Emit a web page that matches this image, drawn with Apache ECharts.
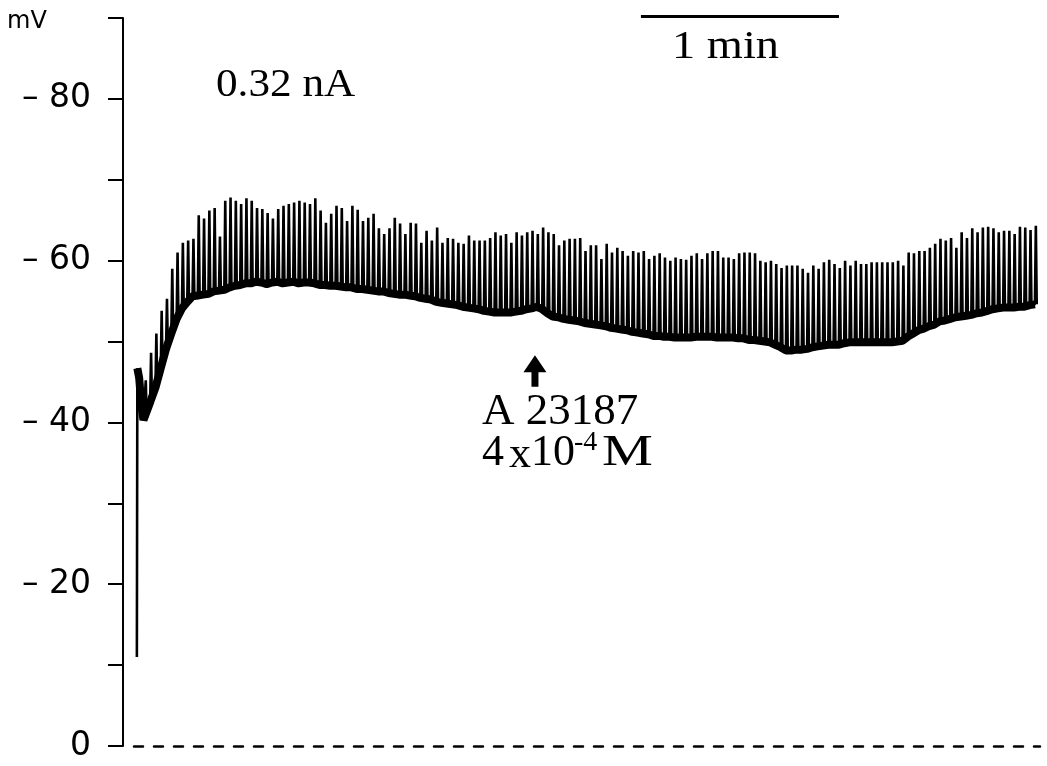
<!DOCTYPE html>
<html>
<head>
<meta charset="utf-8">
<script src="https://cdn.jsdelivr.net/npm/echarts@6/dist/echarts.min.js"></script>
<style>
html,body{margin:0;padding:0;background:#fff;}
#chart{width:1047px;height:766px;}
</style>
</head>
<body>
<div id="chart"></div>
<script>
// ---- Data (time in s, membrane potential in mV) ----
const onsetTime = [0, 0.15, 0.7, 1.4, 2.0];
const onsetMv = [-11.0, -46.7, -45.5, -42.0, -40.3];

const spikeStart = 2.42;     // s, first spike
const spikePeriod = 1.605;   // s, spike interval
const riseTime = 0.28, fallTime = 0.55; // s, spike shape

const spikePeakMv = [
-45.2,-48.6,-51.0,-53.8,-55.3,-59.0,-61.0,-62.2,-62.5,-62.7,
-65.6,-65.2,-66.2,-66.5,-63.0,-67.4,-67.8,-67.4,-67.0,-67.7,
-67.4,-66.5,-66.4,-65.9,-65.2,-66.4,-66.8,-67.0,-67.2,-67.4,
-67.2,-67.0,-67.7,-66.2,-64.7,-65.8,-66.8,-66.5,-64.9,-66.8,
-66.3,-64.9,-65.3,-65.8,-64.0,-63.3,-64.0,-65.3,-64.6,-63.3,
-64.7,-64.6,-62.2,-63.7,-62.5,-64.1,-62.2,-62.8,-62.7,-62.2,
-62.1,-63.1,-62.5,-62.5,-62.5,-62.8,-63.5,-63.1,-63.3,-62.2,
-63.5,-63.1,-63.5,-63.7,-63.3,-64.1,-63.5,-63.3,-61.9,-62.5,
-62.7,-62.7,-62.8,-61.2,-61.9,-61.9,-60.2,-62.1,-61.0,-61.6,
-61.2,-60.6,-61.2,-61.0,-61.2,-60.2,-60.6,-60.9,-60.4,-60.0,
-60.4,-60.2,-60.1,-60.6,-60.9,-60.2,-60.9,-61.2,-61.2,-60.4,
-60.4,-60.2,-60.9,-61.0,-61.0,-60.9,-60.0,-59.8,-60.0,-59.6,
-59.1,-59.4,-59.4,-59.4,-59.0,-58.5,-59.4,-59.0,-59.8,-60.1,
-59.6,-59.1,-60.0,-59.4,-60.0,-59.6,-59.6,-59.8,-59.8,-59.8,
-59.8,-59.8,-60.0,-59.4,-61.0,-60.9,-61.2,-61.2,-61.6,-62.1,
-62.7,-62.5,-62.8,-61.6,-63.5,-62.8,-64.0,-63.5,-64.1,-64.2,
-64.0,-63.5,-63.7,-63.7,-63.3,-64.2,-64.1,-63.8,-64.3
];

const spikeBaseMv = [
-40.5,-42.5,-44.3,-46.7,-49.1,-51.0,-52.8,-54.1,-54.9,-55.6,
-55.7,-55.8,-55.9,-56.2,-56.3,-56.4,-56.7,-56.9,-57.0,-57.2,
-57.2,-57.4,-57.3,-57.1,-57.3,-57.4,-57.2,-57.3,-57.4,-57.2,
-57.3,-57.3,-57.2,-57.0,-57.0,-56.9,-56.9,-56.8,-56.7,-56.7,
-56.5,-56.5,-56.4,-56.3,-56.2,-56.2,-56.0,-55.9,-55.8,-55.8,
-55.7,-55.6,-55.4,-55.3,-55.2,-54.9,-54.8,-54.7,-54.6,-54.5,
-54.3,-54.2,-54.1,-54.0,-53.8,-53.7,-53.6,-53.6,-53.6,-53.6,
-53.7,-53.8,-54.0,-54.1,-54.3,-54.0,-53.5,-53.1,-53.0,-52.8,
-52.7,-52.6,-52.5,-52.3,-52.2,-52.1,-52.0,-51.9,-51.7,-51.6,
-51.5,-51.4,-51.2,-51.1,-51.0,-50.9,-50.7,-50.7,-50.6,-50.6,
-50.5,-50.5,-50.5,-50.5,-50.6,-50.6,-50.6,-50.6,-50.5,-50.5,
-50.5,-50.5,-50.4,-50.4,-50.2,-50.2,-50.1,-50.0,-49.9,-49.6,
-49.3,-48.9,-48.9,-49.0,-49.0,-49.1,-49.3,-49.4,-49.5,-49.6,
-49.6,-49.6,-49.8,-49.9,-49.9,-49.9,-49.9,-49.9,-49.9,-49.9,
-49.9,-49.9,-50.0,-50.1,-50.6,-51.0,-51.4,-51.6,-51.9,-52.1,
-52.5,-52.6,-52.8,-53.0,-53.1,-53.2,-53.3,-53.5,-53.6,-53.8,
-54.0,-54.1,-54.2,-54.2,-54.2,-54.3,-54.3,-54.5,-54.6
];

const yTicks = [-80, -60, -40, -20, 0];
const scaleBarStart = 152.7, scaleBarLength = 60, scaleBarLevel = -90.2; // 1 min bar
const drugTime = 120.6, arrowTipMv = -48.3, arrowTailMv = -44.4;        // A23187 application

// ---- Build series ----
const trace = onsetTime.map((t, i) => [t, onsetMv[i]]);
const base = onsetTime.slice(1).map((t, i) => [t, onsetMv[i + 1]]);
spikePeakMv.forEach((p, i) => {
  const t = spikeStart + i * spikePeriod;
  trace.push([t, spikeBaseMv[i]], [t + riseTime, p], [t + fallTime, spikeBaseMv[i]]);
  base.push([t, spikeBaseMv[i]]);
});

const chart = echarts.init(document.getElementById('chart'), null, {renderer: 'canvas'});
chart.setOption({
  animation: false,
  backgroundColor: '#fff',
  grid: {left: 123, right: 7, top: 18, bottom: 20},
  xAxis: {
    type: 'value', min: -4.2, max: 273.6,
    axisLine: {show: true, onZero: false, lineStyle: {color: '#000', width: 2.5, type: [9, 11], dashOffset: 9}},
    axisTick: {show: false}, axisLabel: {show: false}, splitLine: {show: false}
  },
  yAxis: {
    type: 'value', min: -90, max: 0, interval: 10, inverse: true,
    axisLine: {show: true, onZero: false, lineStyle: {color: '#000', width: 2}},
    axisTick: {show: true, length: 15, lineStyle: {color: '#000', width: 2}},
    axisLabel: {
      margin: 32, color: '#000', fontFamily: 'DejaVu Sans', fontSize: 33,
      formatter: v => v === 0 ? '0' : (yTicks.indexOf(v) >= 0 ? '\u2013 ' + Math.abs(v) : '')
    },
    splitLine: {show: false}
  },
  series: [
    {type: 'line', data: base, showSymbol: false, symbol: 'none', smooth: false,
     lineStyle: {color: '#000', width: 8}, z: 2},
    {type: 'line', data: trace, showSymbol: false, symbol: 'none', smooth: false,
     lineStyle: {color: '#000', width: 2.6}, z: 3},
    {type: 'line', data: [[scaleBarStart, scaleBarLevel], [scaleBarStart + scaleBarLength, scaleBarLevel]],
     showSymbol: false, symbol: 'none', clip: false, lineStyle: {color: '#000', width: 3}, z: 4}
  ]
});

const tip = chart.convertToPixel({gridIndex: 0}, [drugTime, arrowTipMv]);
const tail = chart.convertToPixel({gridIndex: 0}, [drugTime, arrowTailMv]);
const ax = tip[0], ty = tip[1], by = tail[1];
function txt(text, x, y, size, sx, family) {
  return {type: 'text', x: x, y: y, scaleX: sx || 1, z: 10,
    style: {text: text, fill: '#000', fontSize: size, fontFamily: family || 'Liberation Serif',
            verticalAlign: 'middle', align: 'left'}};
}
chart.setOption({
  graphic: [
    {type: 'polygon', z: 10, shape: {points: [
      [ax, ty], [ax + 11.5, ty + 17], [ax + 3.5, ty + 17], [ax + 3.5, by],
      [ax - 3.5, by], [ax - 3.5, ty + 17], [ax - 11.5, ty + 17]]},
     style: {fill: '#000'}},
    txt('mV', 7, 22, 24, 1, 'DejaVu Sans'),
    txt('0.32 nA', 216, 85, 40, 1.08),
    txt('1 min', 672, 47, 40, 1.16),
    txt('A 23187', 482, 412, 45, 1),
    txt('4', 482, 453, 44, 1),
    txt('x', 509, 455, 44, 1),
    txt('10', 531, 453, 44, 1),
    txt('-4', 574, 443, 28, 1),
    txt('M', 602, 453, 44, 1.3)
  ]
});
</script>
</body>
</html>
